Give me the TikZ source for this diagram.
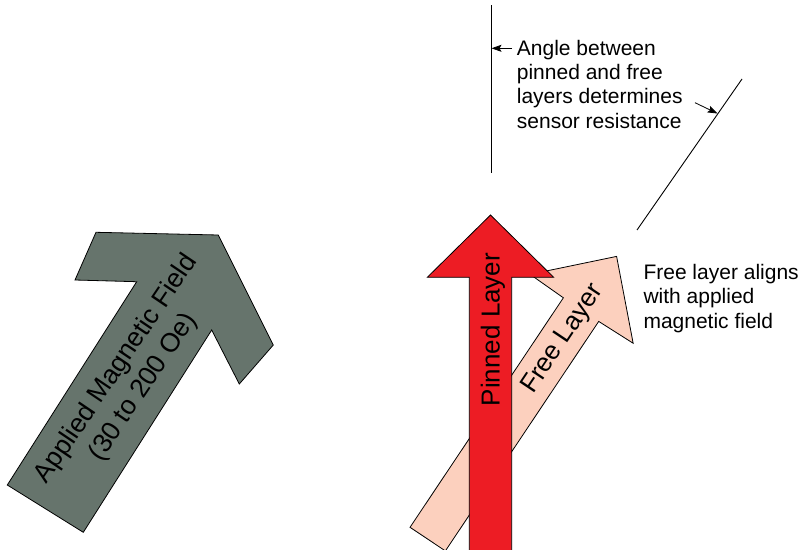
\documentclass[tikz,border=0pt]{standalone}
\usepackage{fontspec}
\setmainfont{Liberation Sans}
\usetikzlibrary{arrows.meta}
\definecolor{fieldgray}{RGB}{102,116,108}
\definecolor{pinred}{RGB}{237,28,36}
\definecolor{freepeach}{RGB}{252,208,190}
\begin{document}
\begin{tikzpicture}[x=1pt,y=-1pt,
  arrowshape/.style={draw=black, line width=0.8pt, line join=miter},
  lbl/.style={font=\fontsize{26}{32}\selectfont, inner sep=0pt},
  note/.style={font=\fontsize{21}{24.3}\selectfont, align=left, inner sep=0pt, anchor=base west},
  thinline/.style={line width=0.9pt},
  pointer/.style={line width=0.8pt, -{Stealth[length=10pt,width=7pt,inset=2pt]}}]
\useasboundingbox (0,0) rectangle (806,549);
\fill[white] (0,0) rectangle (806,549);
% applied field arrow
\draw[arrowshape, fill=fieldgray] (7.3,485) -- (83.3,532.3) -- (211.7,330) -- (239.3,384) -- (273.3,345) -- (218.3,235) -- (96,232.3) -- (75,280) -- (136.7,281.7) -- cycle;
\node[lbl, font=\fontsize{26.6}{32.5}\selectfont, rotate=56, align=center] (fieldlbl) at (130,378) {Applied Magnetic Field\\(30 to 200 Oe)};
% free layer arrow
\draw[arrowshape, fill=freepeach] (410.03,527.29) -- (563.38,297.8) -- (530.05,274.35) -- (616.6,256.4) -- (633.15,343.25) -- (598.72,321.42) -- (445.37,550.91) -- cycle;
\node[lbl, rotate=56.25] (freelbl) at (563,339) {Free Layer};
% pinned layer arrow
\draw[arrowshape, fill=pinred] (469.3,560) -- (469.3,277.3) -- (427.3,277.3) -- (490.5,215) -- (553.7,277.3) -- (511.7,277.3) -- (511.7,560) -- cycle;
\node[lbl, rotate=90, anchor=base] (pinlbl) at (499.5,329.5) {Pinned Layer};
% direction lines
\coordinate (vtop) at (491,5);
\coordinate (vbot) at (491,173);
\draw[thinline] (vtop) -- (vbot);
\coordinate (dtop) at (742,79);
\coordinate (dbot) at (637,230);
\draw[thinline] (dtop) -- (dbot);
% notes (anchored at the baseline of the last line)
\node[note] (anglenote) at (516.7,128) {Angle between\\pinned and free\\layers determines\\sensor resistance};
\node[note] (freenote) at (643.3,328) {Free layer aligns\\with applied\\magnetic field};
% pointers
\coordinate (p1s) at (512,48.3);
\coordinate (p1e) at (491.5,48.3);
\draw[pointer] (p1s) -- (p1e);
\coordinate (p2s) at (695,102.7);
\coordinate (p2e) at (717.5,113.5);
\draw[pointer] (p2s) -- (p2e);
\end{tikzpicture}
\end{document}
